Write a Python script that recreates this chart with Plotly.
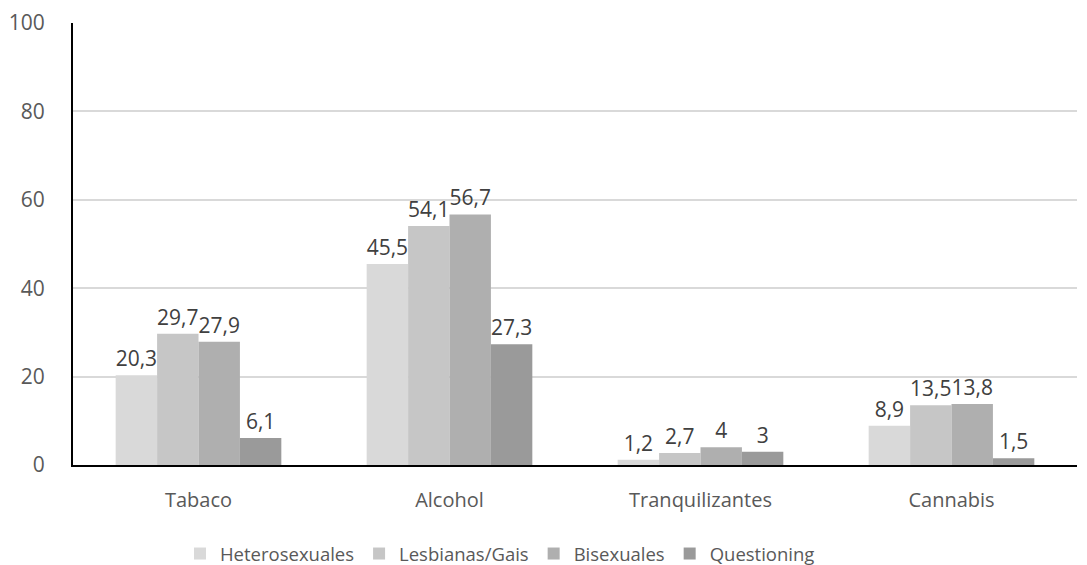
import plotly.graph_objects as go

categories = ["Tabaco", "Alcohol", "Tranquilizantes", "Cannabis"]
heterosexuales = [20.3, 45.5, 1.2, 8.9]
lesbianas_gais = [29.7, 54.1, 2.7, 13.5]
bisexuales = [27.9, 56.7, 4, 13.8]
questioning = [6.1, 27.3, 3, 1.5]

series = [
    ("Heterosexuales", heterosexuales, "#D9D9D9"),
    ("Lesbianas/Gais", lesbianas_gais, "#C6C6C6"),
    ("Bisexuales", bisexuales, "#AFAFAF"),
    ("Questioning", questioning, "#9A9A9A"),
]

def fmt(v):
    s = ("%g" % v)
    return s.replace(".", ",")

fig = go.Figure()
for name, vals, color in series:
    fig.add_trace(go.Bar(
        x=categories, y=vals, name=name,
        marker=dict(color=color, line=dict(width=0)),
        text=[fmt(v) for v in vals], textposition="outside",
        textfont=dict(size=21, color="#404040"),
        cliponaxis=False,
    ))

fig.update_layout(
    width=1087, height=565,
    margin=dict(l=65, r=18, t=15, b=108, autoexpand=False),
    paper_bgcolor="white", plot_bgcolor="white",
    font=dict(family="Open Sans, Liberation Sans, sans-serif", color="#595959", size=18),
    barmode="group", bargap=0.34, bargroupgap=0,
    showlegend=True,
    legend=dict(orientation="h", x=0.4526, xanchor="center", xref="container",
                y=0.0, yanchor="bottom", yref="container",
                font=dict(size=18.5, color="#595959"), itemwidth=30, tracegroupgap=0),
    yaxis=dict(range=[0, 100], dtick=20, showgrid=True, gridcolor="#D9D9D9", gridwidth=1.5,
               showline=True, linecolor="black", linewidth=2, zeroline=False, automargin=False,
               ticks="", tickfont=dict(size=21, color="#595959"), ticklabelstandoff=22),
    xaxis=dict(showline=True, linecolor="black", linewidth=2, ticks="", automargin=False,
               tickfont=dict(size=20, color="#595959"), ticklabelstandoff=16),
)

fig.write_html("out.html")
